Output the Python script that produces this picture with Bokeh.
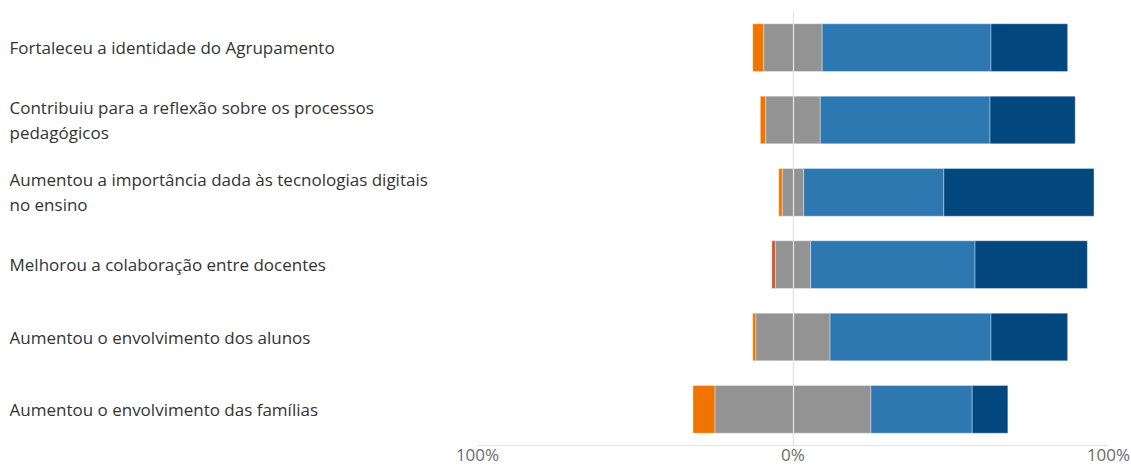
from bokeh.plotting import figure
from bokeh.layouts import row
from bokeh.models import ColumnDataSource, Range1d, FactorRange, FixedTicker
from bokeh.core.properties import value
from bokeh.embed import file_html
from bokeh.resources import INLINE

# ---- data (percentages of responses) ----
categories = [
    "Fortaleceu a identidade do Agrupamento",
    "Contribuiu para a reflexão sobre os processos\npedagógicos",
    "Aumentou a importância dada às tecnologias digitais\nno ensino",
    "Melhorou a colaboração entre docentes",
    "Aumentou o envolvimento dos alunos",
    "Aumentou o envolvimento das famílias",
]
discordo_totalmente = [0.0, 0.0, 0.0, 1.1, 0.0, 0.0]
discordo = [3.5, 1.7, 1.1, 0.0, 1.0, 7.0]
neutro = [18.5, 17.3, 6.8, 11.2, 23.5, 49.4]
concordo = [53.5, 53.8, 44.4, 52.1, 51.0, 32.1]
concordo_totalmente = [24.3, 27.0, 47.6, 35.6, 24.3, 11.3]

tick_values = [-100, 0, 100]
tick_labels = ["100%", "0%", "100%"]

series = [
    (discordo_totalmente, "#c8552a"),
    (discordo, "#f07400"),
    (neutro, "#939393"),
    (concordo, "#2e78b1"),
    (concordo_totalmente, "#03477f"),
]

FONT = "Open Sans"
factors = list(reversed(categories))

H = 468
W_LEFT = 452
W_RIGHT = 679


def style_axis(p, ticks, labels, visible=True):
    ax = p.xaxis[0]
    ax.ticker = FixedTicker(ticks=ticks)
    ax.major_label_overrides = dict(zip(ticks, labels))
    ax.major_tick_line_color = None
    ax.minor_tick_line_color = None
    ax.major_tick_out = 0
    ax.major_tick_in = 0
    ax.minor_tick_out = 0
    ax.minor_tick_in = 0
    ax.major_label_text_font = FONT
    ax.major_label_text_font_size = "17px"
    ax.major_label_text_color = "#6b6b6b"
    ax.major_label_standoff = -3
    ax.axis_line_color = "#e3e3e3" if visible else None
    if not visible:
        ax.major_label_text_alpha = 0


# ---- left panel: category labels ----
pl = figure(width=W_LEFT, height=H, x_range=Range1d(0, 1), y_range=FactorRange(factors=factors),
            output_backend="svg", toolbar_location=None,
            min_border_left=9, min_border_right=0, min_border_top=11, min_border_bottom=0)
pl.outline_line_color = None
pl.yaxis.visible = False
pl.grid.visible = False
style_axis(pl, [0.5], ["100%"], visible=False)
lab_src = ColumnDataSource(dict(y=categories, text=categories))
pl.text(x=0, y="y", text="text", source=lab_src, text_font=value(FONT), text_font_size="17px",
        text_color="#333333", text_align="left", text_baseline="middle", text_line_height=1.08)

# ---- right panel: diverging stacked bars ----
pr = figure(width=W_RIGHT, height=H, x_range=Range1d(-100, 100), y_range=pl.y_range,
            output_backend="svg", toolbar_location=None,
            min_border_left=25, min_border_right=23, min_border_top=11, min_border_bottom=0)
pr.outline_line_color = None
pr.yaxis.visible = False
pr.ygrid.visible = False
style_axis(pr, tick_values, tick_labels, visible=True)
pr.xgrid.ticker = FixedTicker(ticks=tick_values)
pr.xgrid.grid_line_color = "#e3e3e3"
pr.xgrid.grid_line_width = 1.3
pr.xgrid.level = "annotation"

lefts = [-(n / 2 + d + s) for n, d, s in zip(neutro, discordo, discordo_totalmente)]
for vals, col in series:
    rights = [l + v for l, v in zip(lefts, vals)]
    ys = [c for c, v in zip(categories, vals) if v > 0]
    ls = [l for l, v in zip(lefts, vals) if v > 0]
    rs = [r for r, v in zip(rights, vals) if v > 0]
    src = ColumnDataSource(dict(y=ys, left=ls, right=rs))
    pr.hbar(y="y", left="left", right="right", height=0.66, source=src,
            fill_color=col, line_color="white", line_alpha=0.35, line_width=1)
    lefts = rights

layout = row(pl, pr)
open("out.html", "w").write(file_html(layout, INLINE))
